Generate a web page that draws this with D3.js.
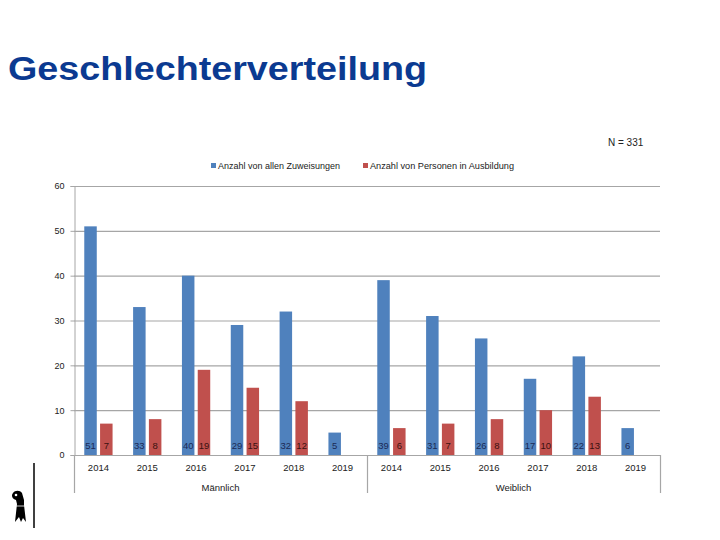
<!DOCTYPE html>
<html><head><meta charset="utf-8">
<script src="https://cdn.jsdelivr.net/npm/d3@7"></script>
<style>body{margin:0;background:#fff}svg{display:block}</style>
</head><body>
<script>
const genders = ["Männlich", "Weiblich"];
const years = ["2014", "2015", "2016", "2017", "2018", "2019"];
const seriesNames = ["Anzahl von allen Zuweisungen", "Anzahl von Personen in Ausbildung"];
const allMale = [51, 33, 40, 29, 32, 5];
const ausMale = [7, 8, 19, 15, 12, null];
const allFemale = [39, 31, 26, 17, 22, 6];
const ausFemale = [6, 7, 8, 10, 13, null];
const yTicks = [0, 10, 20, 30, 40, 50, 60];
const colors = ["#4f81bd", "#c0504d"];

const rows = [];
genders.forEach((g, gi) => years.forEach((y, yi) => {
  rows.push({key: g + "|" + y, gender: g, year: y,
    vals: gi === 0 ? [allMale[yi], ausMale[yi]] : [allFemale[yi], ausFemale[yi]]});
}));

const W = 720, H = 540;
const svg = d3.select("body").append("svg").attr("width", W).attr("height", H);
const font = "'Liberation Sans', Arial, sans-serif";

// Title
svg.append("text").attr("x", 8).attr("y", 80)
  .attr("font-family", "'Liberation Sans', Arial, sans-serif").attr("font-weight", "bold")
  .attr("font-size", 34).attr("fill", "#0b3a91")
  .attr("textLength", 419).attr("lengthAdjust", "spacingAndGlyphs")
  .text("Geschlechterverteilung");

svg.append("text").attr("x", 608).attr("y", 146)
  .attr("font-family", font).attr("font-size", 10)
  .attr("fill", "#222").text("N = 331");

const x0 = 74, x1 = 660, yTop = 186, yBot = 455;
const x = d3.scaleBand().domain(rows.map(r => r.key)).range([x0, x1]).paddingInner(0).paddingOuter(0);
const xs = d3.scaleBand().domain([0, 1]).range([0, x.bandwidth()]).paddingInner(0.209).paddingOuter(0.65);
const y = d3.scaleLinear().domain([0, 60]).range([yBot, yTop]);

// gridlines
svg.append("g").selectAll("line").data(yTicks.filter(t => t > 0)).join("line")
  .attr("x1", x0).attr("x2", x1).attr("y1", d => y(d) + 0.5).attr("y2", d => y(d) + 0.5)
  .attr("stroke", "#a6a6a6").attr("stroke-width", 1.2);

// y axis
const yAxis = svg.append("g").attr("transform", `translate(${x0 + 0.5},0)`)
  .call(d3.axisLeft(y).tickValues(yTicks).tickSize(4).tickPadding(6));
yAxis.select(".domain").attr("stroke", "#a6a6a6");
yAxis.selectAll(".tick line").attr("stroke", "#a6a6a6");
yAxis.selectAll("text").attr("font-family", font).attr("font-size", 9).attr("fill", "#222");

// bars
const groups = svg.append("g").selectAll("g").data(rows).join("g")
  .attr("transform", d => `translate(${x(d.key)},0)`);
groups.selectAll("rect").data(d => d.vals.map((v, i) => ({v, i})).filter(o => o.v != null)).join("rect")
  .attr("x", o => xs(o.i)).attr("width", xs.bandwidth())
  .attr("y", o => y(o.v)).attr("height", o => yBot - y(o.v))
  .attr("fill", o => colors[o.i]);
groups.selectAll("text").data(d => d.vals.map((v, i) => ({v, i})).filter(o => o.v != null)).join("text")
  .attr("x", o => xs(o.i) + xs.bandwidth() / 2).attr("y", yBot - 6)
  .attr("text-anchor", "middle").attr("font-family", font).attr("font-size", 9.5)
  .attr("fill", o => o.i === 0 ? "#1b2a55" : "#3a1010").text(o => o.v);

// x axis baseline
svg.append("line").attr("x1", x0).attr("x2", x1).attr("y1", yBot + 0.5).attr("y2", yBot + 0.5)
  .attr("stroke", "#a6a6a6").attr("stroke-width", 1.2);
// dividers
const divX = [x0, x(genders[1] + "|" + years[0]), x1];
svg.append("g").selectAll("line").data(divX).join("line")
  .attr("x1", d => d + 0.5).attr("x2", d => d + 0.5).attr("y1", yBot).attr("y2", 493)
  .attr("stroke", "#a6a6a6").attr("stroke-width", 1.2);

// year labels
svg.append("g").selectAll("text").data(rows).join("text")
  .attr("x", d => x(d.key) + x.bandwidth() / 2).attr("y", 471)
  .attr("text-anchor", "middle").attr("font-family", font).attr("font-size", 9.5)
  .attr("fill", "#222").text(d => d.year);
// gender labels
svg.append("g").selectAll("text").data(genders).join("text")
  .attr("x", g => x(g + "|" + years[0]) + x.bandwidth() * 3).attr("y", 491)
  .attr("text-anchor", "middle").attr("font-family", font).attr("font-size", 9.5)
  .attr("fill", "#222").text(g => g);

// legend
const legX = [211, 363];
const legW = [122, 144];
const leg = svg.append("g").selectAll("g").data(seriesNames).join("g")
  .attr("transform", (d, i) => `translate(${legX[i]},163)`);
leg.append("rect").attr("width", 5).attr("height", 5).attr("fill", (d, i) => colors[i]);
leg.append("text").attr("x", 7).attr("y", 6).attr("font-family", font).attr("font-size", 9.5)
  .attr("fill", "#222").attr("textLength", (d, i) => legW[i]).attr("lengthAdjust", "spacingAndGlyphs")
  .text(d => d);

// left decoration: vertical line and Basel crozier
svg.append("line").attr("x1", 34).attr("x2", 34).attr("y1", 463).attr("y2", 528)
  .attr("stroke", "#000").attr("stroke-width", 1.5);
svg.append("path")
  .attr("d", "M15,522 L17,504 L16,500 C12,499 11,495 13,493 C15,490 20,490 22,493 L24,500 L24,505 L26,522 L23,518 L21,522 L19,517 Z")
  .attr("fill", "#000");
svg.append("circle").attr("cx", 16).attr("cy", 495).attr("r", 1.3).attr("fill", "#fff");
svg.append("line").attr("x1", 16).attr("x2", 25).attr("y1", 506).attr("y2", 506).attr("stroke", "#fff").attr("stroke-width", 0.8);
</script>
</body></html>
